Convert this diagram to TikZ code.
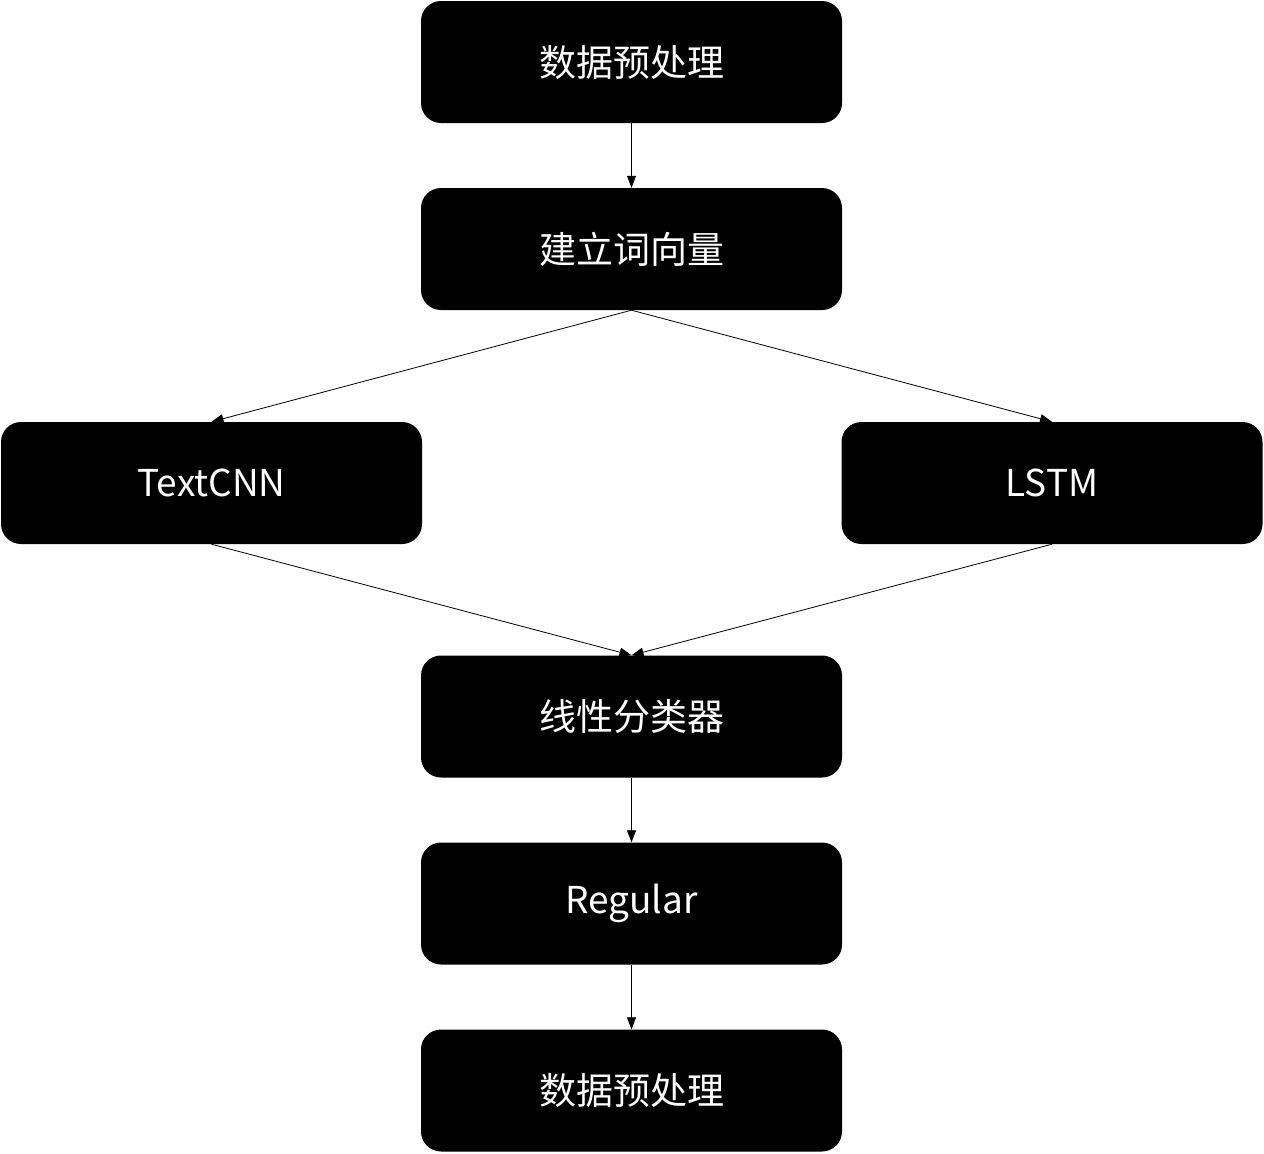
\documentclass[tikz,border=0pt]{standalone}
\usepackage{fontspec}
\setmainfont{Noto Sans CJK SC}
\newfontfamily\cjk{Noto Sans CJK SC}
\usetikzlibrary{arrows.meta}
\begin{document}
\begin{tikzpicture}[x=1pt,y=-1pt,
  blk/.style={fill=black,text=white,rounded corners=20pt,minimum width=421pt,minimum height=122pt,inner sep=0pt,font=\cjk\fontsize{37}{42}\selectfont},
  arr/.style={-{Triangle[length=12pt,width=9pt]},line width=0.8pt,black}]
\useasboundingbox (0,0) rectangle (1264,1154);
\node[blk] (a) at (631.5,62) {数据预处理};
\node[blk] (b) at (631.5,249) {建立词向量};
\node[blk] (c) at (211.5,483) {TextCNN};
\node[blk] (d) at (1052,483) {LSTM};
\node[blk] (e) at (631.5,716.5) {线性分类器};
\node[blk] (f) at (631.5,903.5) {Regular};
\node[blk] (g) at (631.5,1090.5) {数据预处理};
\draw[arr] (a.south) -- (b.north);
\draw[arr] (b.south) -- (c.north);
\draw[arr] (b.south) -- (d.north);
\draw[arr] (c.south) -- (e.north);
\draw[arr] (d.south) -- (e.north);
\draw[arr] (e.south) -- (f.north);
\draw[arr] (f.south) -- (g.north);
\end{tikzpicture}
\end{document}
